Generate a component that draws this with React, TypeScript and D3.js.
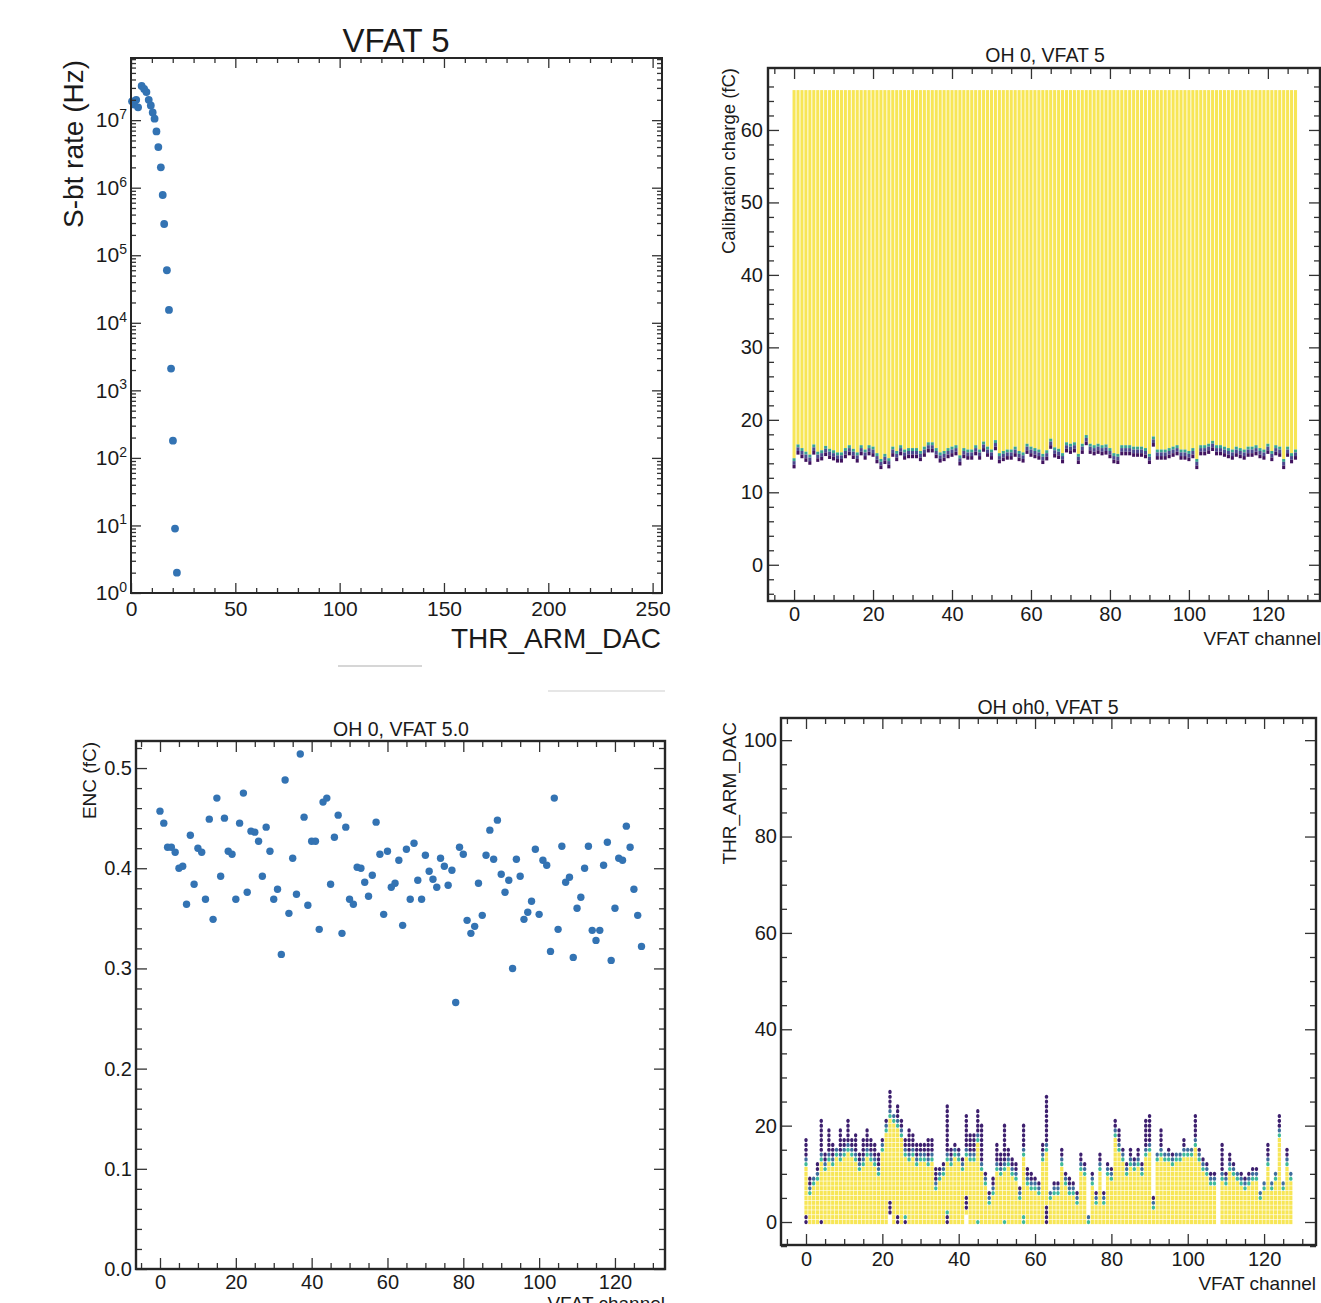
import { useEffect, useRef } from "react";
import * as d3 from "d3";

const W = 1321;
const H = 1303;
const FONT = "'Liberation Sans', Arial, Helvetica, sans-serif";
const DOT = "#3373b3";

// ---- panel 1: S-bit rate vs THR_ARM_DAC
const sbitDac = [0.5, 1.5, 2.5, 3.4, 5.1, 6.3, 7.4, 8.5, 9.5, 10.4, 11.3, 12.2, 13.1, 14.3, 15.2, 15.9, 17.2, 18.2, 19.2, 20.1, 21.1, 22.0];
const sbitRate = [1.9e7, 1.7e7, 2.0e7, 1.55e7, 3.2e7, 2.9e7, 2.6e7, 2.0e7, 1.65e7, 1.3e7, 1.05e7, 6.8e6, 4.0e6, 2.0e6, 7.8e5, 2.9e5, 6.0e4, 1.55e4, 2.1e3, 180, 9, 2];

const channels = d3.range(128);

// ---- panel 2: s-curve threshold per channel (fC)
const scurveThr = [
  13.3, 15.2, 14.7, 14.2, 13.8, 15.2, 14.2, 14.4, 15.0, 14.6,
  14.4, 14.1, 14.1, 14.7, 15.1, 14.6, 14.1, 15.1, 14.5, 15.1,
  14.9, 14.0, 13.2, 13.9, 13.3, 14.9, 14.3, 15.1, 14.5, 14.7,
  14.7, 14.7, 14.3, 14.9, 15.5, 15.5, 14.7, 14.1, 14.3, 14.7,
  14.9, 15.1, 13.7, 14.7, 14.5, 14.5, 15.1, 14.5, 15.6, 14.9,
  14.5, 15.8, 14.0, 14.3, 14.5, 14.5, 14.9, 14.3, 14.1, 15.3,
  14.9, 14.7, 14.5, 13.9, 14.4, 16.0, 14.8, 14.6, 14.0, 15.5,
  15.3, 15.5, 13.9, 15.3, 16.5, 15.3, 15.1, 15.3, 15.1, 15.2,
  14.7, 14.0, 13.9, 15.1, 15.1, 15.1, 14.9, 14.9, 14.9, 14.7,
  13.9, 16.3, 14.5, 14.5, 14.5, 14.7, 14.9, 15.1, 14.5, 14.5,
  14.3, 14.7, 13.2, 15.1, 15.1, 15.3, 15.7, 15.1, 15.1, 14.9,
  14.7, 14.5, 14.9, 14.7, 14.5, 14.9, 14.9, 15.1, 14.7, 14.5,
  15.3, 14.3, 15.1, 14.9, 13.2, 14.9, 14.0, 14.5,
];
const scurveMax = 65.5;

// ---- panel 3: ENC per channel (fC)
const enc = [
  0.457, 0.445, 0.421, 0.421, 0.416, 0.400, 0.402, 0.364, 0.433, 0.384,
  0.420, 0.416, 0.369, 0.449, 0.349, 0.470, 0.392, 0.450, 0.417, 0.414,
  0.369, 0.445, 0.475, 0.376, 0.437, 0.436, 0.427, 0.392, 0.441, 0.417,
  0.369, 0.379, 0.314, 0.488, 0.355, 0.410, 0.374, 0.514, 0.451, 0.363,
  0.427, 0.427, 0.339, 0.466, 0.470, 0.384, 0.431, 0.453, 0.335, 0.441,
  0.369, 0.364, 0.401, 0.400, 0.386, 0.372, 0.393, 0.446, 0.414, 0.354,
  0.417, 0.381, 0.385, 0.408, 0.343, 0.419, 0.369, 0.425, 0.388, 0.369,
  0.413, 0.397, 0.389, 0.381, 0.410, 0.402, 0.383, 0.398, 0.266, 0.421,
  0.414, 0.348, 0.335, 0.342, 0.385, 0.353, 0.413, 0.438, 0.409, 0.448,
  0.394, 0.376, 0.388, 0.300, 0.409, 0.392, 0.349, 0.356, 0.367, 0.419,
  0.354, 0.408, 0.403, 0.317, 0.470, 0.339, 0.422, 0.386, 0.391, 0.311,
  0.360, 0.371, 0.400, 0.422, 0.338, 0.328, 0.338, 0.403, 0.426, 0.308,
  0.360, 0.410, 0.408, 0.442, 0.421, 0.379, 0.353, 0.322,
];

// ---- panel 4: THR_ARM_DAC scan, highest filled bin and highest fully-efficient bin
const thrTop = [
  17, 9, 9, 12, 21, 14, 19, 16, 15, 19,
  17, 21, 17, 18, 14, 17, 19, 17, 16, 14,
  17, 21, 27, 22, 24, 21, 17, 19, 18, 16,
  16, 16, 17, 17, 11, 11, 12, 24, 15, 16,
  15, 13, 22, 18, 18, 23, 20, 10, 6, 9,
  16, 14, 20, 15, 13, 12, 7, 20, 11, 10,
  9, 8, 16, 26, 6, 8, 8, 15, 10, 9,
  8, 6, 14, 12, 1, 10, 6, 14, 6, 12,
  11, 21, 19, 15, 12, 15, 13, 15, 12, 21,
  22, 5, 14, 19, 14, 15, 14, 14, 14, 17,
  15, 15, 22, 15, 13, 12, 10, 10, -1, 16,
  10, 14, 12, 10, 10, 9, 10, 11, 11, 6,
  8, 16, 8, 10, 22, 8, 15, 10,
];
const thrYellowTop = [
  11, 5, 7, 8, 12, 10, 12, 11, 13, 12,
  13, 14, 13, 12, 10, 11, 13, 12, 11, 9,
  14, 18, 21, 20, 19, 17, 13, 12, 13, 11,
  12, 12, 11, 12, 6, 8, 9, 12, 11, 13,
  12, 10, 13, 12, 12, 16, 10, 7, 3, 5,
  10, 9, 10, 11, 9, 8, 4, 13, 7, 6,
  6, 5, 12, 14, 4, 5, 5, 11, 7, 5,
  5, 3, 10, 9, -1, 7, 3, 10, 3, 9,
  8, 17, 14, 12, 9, 11, 10, 11, 9, 13,
  14, 2, 12, 13, 12, 12, 11, 12, 12, 13,
  13, 13, 15, 12, 10, 9, 7, 7, -1, 8,
  7, 10, 9, 8, 7, 6, 7, 8, 8, 4,
  6, 11, 6, 8, 17, 6, 11, 8,
];
// low bins that are not yellow: [channel, dac, kind]  p = purple, t = teal, w = empty
const thrLowCells: [number, number, string][] = [
  [0, 0, "p"], [0, 1, "p"], [4, 0, "p"], [22, 0, "w"], [22, 1, "w"], [22, 2, "p"], [22, 3, "p"], [22, 4, "p"],
  [24, 0, "p"], [24, 1, "p"], [26, 0, "p"], [26, 1, "t"], [37, 0, "p"], [37, 1, "p"], [37, 2, "t"],
  [42, 0, "w"], [42, 1, "w"], [42, 3, "p"], [42, 4, "p"], [42, 5, "p"], [45, 0, "t"], [52, 0, "t"],
  [57, 0, "t"], [57, 1, "t"], [63, 0, "p"], [63, 1, "p"], [63, 2, "p"], [63, 3, "p"],
];

const COL = { y: "#f7e656", t: "#3fb99a", b: "#3f6c9d", p: "#3d1f6e" };

function axes(g, x, y, o) {
  const [x0, x1] = x.range();
  const [y0, y1] = y.range();
  const clean = (sel) => {
    sel.select(".domain").remove();
    sel.selectAll(".tick line").attr("stroke", "#333").attr("stroke-width", 1.3);
    sel.attr("font-family", FONT).attr("font-size", o.fs);
    sel.selectAll(".tick text").attr("fill", "#1a1a1a");
  };
  const none = () => "";
  g.append("g").attr("transform", `translate(0,${y0})`)
    .call(d3.axisBottom(x).tickValues(o.xMajor).tickSize(-o.major).tickPadding(o.xPad).tickFormat(o.xFmt || d3.format("d")))
    .call(clean);
  g.append("g").attr("transform", `translate(0,${y0})`)
    .call(d3.axisBottom(x).tickValues(o.xMinor).tickSize(-o.minor).tickFormat(none)).call(clean);
  g.append("g").attr("transform", `translate(0,${y1})`)
    .call(d3.axisTop(x).tickValues(o.xMajor).tickSize(-o.major).tickFormat(none)).call(clean);
  g.append("g").attr("transform", `translate(0,${y1})`)
    .call(d3.axisTop(x).tickValues(o.xMinor).tickSize(-o.minor).tickFormat(none)).call(clean);
  const left = g.append("g").attr("transform", `translate(${x0},0)`)
    .call(d3.axisLeft(y).tickValues(o.yMajor).tickSize(-o.major).tickPadding(o.yPad).tickFormat(o.yFmt || d3.format("d")))
    .call(clean);
  g.append("g").attr("transform", `translate(${x0},0)`)
    .call(d3.axisLeft(y).tickValues(o.yMinor).tickSize(-o.minor).tickFormat(none)).call(clean);
  g.append("g").attr("transform", `translate(${x1},0)`)
    .call(d3.axisRight(y).tickValues(o.yMajor).tickSize(-o.major).tickFormat(none)).call(clean);
  g.append("g").attr("transform", `translate(${x1},0)`)
    .call(d3.axisRight(y).tickValues(o.yMinor).tickSize(-o.minor).tickFormat(none)).call(clean);
  g.append("rect")
    .attr("x", x0).attr("y", y1).attr("width", x1 - x0).attr("height", y0 - y1)
    .attr("fill", "none").attr("stroke", "#262626").attr("stroke-width", o.frame);
  return left;
}

function label(g, text, x, y, fs, anchor, rotate = false) {
  g.append("text")
    .attr("transform", rotate ? `translate(${x},${y}) rotate(-90)` : `translate(${x},${y})`)
    .attr("text-anchor", anchor)
    .attr("font-family", FONT)
    .attr("font-size", fs)
    .attr("fill", "#1a1a1a")
    .text(text);
}

function drawRate(svg) {
  const g = svg.append("g");
  const x = d3.scaleLinear().domain([0, 254.5]).range([131, 662]);
  const y = d3.scaleLog().domain([1, Math.pow(10, 7.92)]).range([593, 58]);
  const decades = d3.range(0, 8).map((k) => Math.pow(10, k));
  const minors = [];
  decades.forEach((d) => d3.range(2, 10).forEach((m) => { if (d * m < y.domain()[1]) minors.push(d * m); }));

  g.selectAll("circle")
    .data(sbitDac.map((d, i) => [d, sbitRate[i]]))
    .enter()
    .append("circle")
    .attr("cx", (d) => x(d[0]))
    .attr("cy", (d) => y(d[1]))
    .attr("r", 3.9)
    .attr("fill", DOT);

  const left = axes(g, x, y, {
    xMajor: [0, 50, 100, 150, 200, 250],
    xMinor: d3.range(10, 255, 10).filter((v) => v % 50 !== 0),
    yMajor: decades,
    yMinor: minors,
    major: 10, minor: 5, fs: 21, xPad: 8, yPad: 4, frame: 2,
  });
  left.selectAll(".tick text").each(function (d) {
    const t = d3.select(this);
    t.text(null).attr("font-size", 21);
    t.append("tspan").text("10");
    t.append("tspan").attr("dy", "-0.6em").attr("font-size", 14).text(Math.round(Math.log10(d)));
  });

  label(g, "VFAT 5", 396, 52, 33, "middle");
  label(g, "THR_ARM_DAC", 661, 648, 28, "end");
  label(g, "S-bt rate (Hz)", 83, 60, 28, "end", true);
}

function drawScurve(svg) {
  const g = svg.append("g");
  const x = d3.scaleLinear().domain([-6.6, 133.2]).range([768, 1320]);
  const y = d3.scaleLinear().domain([-5, 68.55]).range([601, 68]);
  const bw = x(1) - x(0);

  const cells = [];
  channels.forEach((ch) => {
    const t = scurveThr[ch];
    cells.push({ ch, lo: t + 1.4, hi: scurveMax, c: COL.y });
    cells.push({ ch, lo: t + 1.0, hi: t + 1.4, c: "#3aa58f" });
    cells.push({ ch, lo: t + 0.5, hi: t + 1.0, c: "#4b4a90" });
    cells.push({ ch, lo: t, hi: t + 0.5, c: "#41135f" });
  });
  g.selectAll("rect.cell")
    .data(cells)
    .enter()
    .append("rect")
    .attr("class", "cell")
    .attr("x", (d) => x(d.ch - 0.5) + 0.45)
    .attr("width", bw - 0.9)
    .attr("y", (d) => y(d.hi))
    .attr("height", (d) => y(d.lo) - y(d.hi))
    .attr("fill", (d) => d.c);

  axes(g, x, y, {
    xMajor: [0, 20, 40, 60, 80, 100, 120],
    xMinor: d3.range(-5, 133, 5).filter((v) => v % 20 !== 0),
    yMajor: [0, 10, 20, 30, 40, 50, 60],
    yMinor: d3.range(-4, 68, 2).filter((v) => v % 10 !== 0),
    major: 11, minor: 6, fs: 20, xPad: 6, yPad: 5, frame: 2.4,
  });
  label(g, "OH 0, VFAT 5", 1045, 62, 19.5, "middle");
  label(g, "VFAT channel", 1321, 645, 19, "end");
  label(g, "Calibration charge (fC)", 735, 68, 18.5, "end", true);
}

function drawEnc(svg) {
  const g = svg.append("g");
  const x = d3.scaleLinear().domain([-6.33, 133.2]).range([136, 665]);
  const y = d3.scaleLinear().domain([0, 0.527]).range([1269, 741]);

  g.selectAll("circle")
    .data(channels)
    .enter()
    .append("circle")
    .attr("cx", (d) => x(d))
    .attr("cy", (d) => y(enc[d]))
    .attr("r", 3.7)
    .attr("fill", DOT);

  axes(g, x, y, {
    xMajor: [0, 20, 40, 60, 80, 100, 120],
    xMinor: d3.range(-5, 133, 5).filter((v) => v % 20 !== 0),
    yMajor: [0, 0.1, 0.2, 0.3, 0.4, 0.5],
    yMinor: d3.range(1, 27).filter((v) => v % 5 !== 0).map((v) => v * 0.02),
    yFmt: d3.format(".1f"),
    major: 11, minor: 6, fs: 20, xPad: 6, yPad: 4, frame: 2.4,
  });
  label(g, "OH 0, VFAT 5.0", 401, 736, 19.5, "middle");
  label(g, "ENC (fC)", 96, 742, 19, "end", true);
  // cut by the bottom edge in the source image
  label(g, "VFAT channel", 665, 1310, 19, "end");
}

function drawThr(svg) {
  const g = svg.append("g");
  const x = d3.scaleLinear().domain([-6.55, 133.6]).range([781, 1316]);
  const y = d3.scaleLinear().domain([-4.77, 104.6]).range([1245, 718]);
  const bw = x(1) - x(0);
  const bh = y(0) - y(1);

  const low = new Map(thrLowCells.map(([ch, v, k]) => [`${ch}-${v}`, k]));
  const cells = [];
  channels.forEach((ch) => {
    const yt = thrYellowTop[ch];
    for (let v = 0; v <= thrTop[ch]; v++) {
      let k = v <= yt ? "y" : v === yt + 1 ? "t" : v === yt + 2 ? "b" : "p";
      const o = low.get(`${ch}-${v}`);
      if (o) k = o;
      if (k !== "w") cells.push({ ch, v, k });
    }
  });
  g.selectAll("rect.cell")
    .data(cells)
    .enter()
    .append("rect")
    .attr("class", "cell")
    .attr("x", (d) => x(d.ch - 0.5) + 0.3)
    .attr("y", (d) => y(d.v + 0.5) + 0.3)
    .attr("width", bw - 0.6)
    .attr("height", bh - 0.6)
    .attr("rx", (d) => (d.k === "y" ? 0 : 1.6))
    .attr("fill", (d) => COL[d.k]);

  axes(g, x, y, {
    xMajor: [0, 20, 40, 60, 80, 100, 120],
    xMinor: d3.range(-5, 133, 5).filter((v) => v % 20 !== 0),
    yMajor: [0, 20, 40, 60, 80, 100],
    yMinor: d3.range(-5, 104, 5).filter((v) => v % 20 !== 0),
    major: 11, minor: 6, fs: 20, xPad: 7, yPad: 4, frame: 2.4,
  });
  label(g, "OH oh0, VFAT 5", 1048, 714, 19.5, "middle");
  label(g, "VFAT channel", 1316, 1290, 19, "end");
  label(g, "THR_ARM_DAC", 736, 722, 19, "end", true);
}

export default function App() {
  const ref = useRef<SVGSVGElement>(null);

  useEffect(() => {
    const svg = d3.select(ref.current);
    svg.selectAll("*").remove();
    drawRate(svg);
    drawScurve(svg);
    drawEnc(svg);
    drawThr(svg);
    // faint remnants of cropped neighbouring panels
    svg.append("rect").attr("x", 338).attr("y", 665).attr("width", 84).attr("height", 2).attr("fill", "#d6d6d6");
    svg.append("rect").attr("x", 548).attr("y", 690).attr("width", 117).attr("height", 2).attr("fill", "#e6e6e6");
  }, []);

  return (
    <div style={{ position: "absolute", left: 0, top: 0 }}>
      <svg ref={ref} width={W} height={H} style={{ display: "block", background: "#fff" }}></svg>
    </div>
  );
}
